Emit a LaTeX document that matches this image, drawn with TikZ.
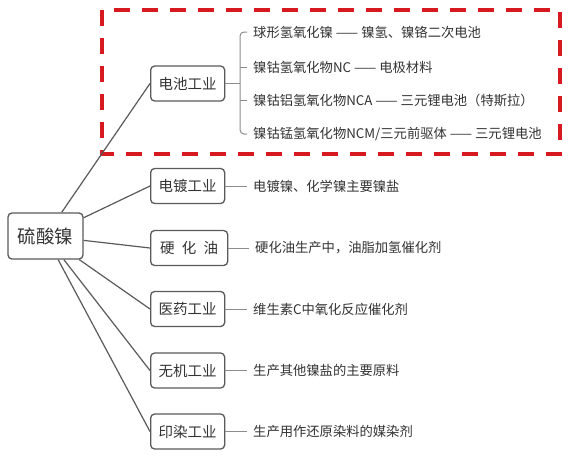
\documentclass[tikz,border=0pt]{standalone}
\usepackage{fontspec}
\setmainfont{Noto Sans CJK SC}
\begin{document}
\begin{tikzpicture}[x=1pt,y=-1pt,
  boxc/.style={draw=boxgray,line width=1.3pt,rounded corners=4pt,fill=white,
    text=txtgray,minimum height=35pt,minimum width=74pt,inner sep=2pt,
    font=\fontsize{14.5}{16}\selectfont},
  rootc/.style={boxc,minimum width=75pt,minimum height=46pt,font=\fontsize{18.5}{20}\selectfont},
  leaf/.style={anchor=west,inner xsep=0pt,inner ysep=2pt,text=txtgray,
    font=\fontsize{13.3}{15}\selectfont},
  conn/.style={draw=linegray,line width=1.2pt},
  brk/.style={draw=brkgray,line width=1pt},
  reddash/.style={draw=redc,line width=4pt,dash pattern=on 16pt off 12pt}
]
\definecolor{boxgray}{HTML}{5A5A5A}
\definecolor{txtgray}{HTML}{333333}
\definecolor{linegray}{HTML}{5A5A5A}
\definecolor{brkgray}{HTML}{8C8C8C}
\definecolor{redc}{HTML}{D71920}
\useasboundingbox (0,0) rectangle (570,458);
\fill[white] (0,0) rectangle (570,458);

\draw[reddash] (102,10) rectangle (560,154);

% root and boxes
\node[rootc] (root) at (45.5,236) {硫酸镍};
\node[boxc,anchor=west] (b1) at (150,83.5) {电池工业};
\node[boxc,anchor=west] (b2) at (150,186) {电镀工业};
\node[boxc,anchor=west,minimum width=77pt] (b3) at (150,248) {硬\hspace{0.5em}化\hspace{0.5em}油};
\node[boxc,anchor=west] (b4) at (150,309) {医药工业};
\node[boxc,anchor=west] (b5) at (150,370.5) {无机工业};
\node[boxc,anchor=west] (b6) at (150,431.5) {印染工业};

\foreach \b in {b1,b2,b3,b4,b5,b6}{\draw[conn] (root) -- (\b.west);}

% battery sub items
\node[leaf] (s1) at (253,32) {球形氢氧化镍 —— 镍氢、镍铬二次电池};
\node[leaf] (s2) at (253,67) {镍钴氢氧化物NC —— 电极材料};
\node[leaf] (s3) at (253,100.5) {镍钴铝氢氧化物NCA —— 三元锂电池（特斯拉）};
\node[leaf] (s4) at (253,134) {镍钴锰氢氧化物NCM/三元前驱体 —— 三元锂电池};

\coordinate (bk) at (240,83.5);
\draw[brk] (b1.east) -- (bk);
\draw[brk,rounded corners=4pt] ([xshift=-6pt]s1.west) -| (bk) |- ([xshift=-6pt]s4.west);
\draw[brk] ([xshift=-6pt]s2.west) -- (s2.west -| bk);
\draw[brk] ([xshift=-6pt]s3.west) -- (s3.west -| bk);

% other leaves
\node[leaf] (l2) at (253,186) {电镀镍、化学镍主要镍盐};
\node[leaf] (l3) at (255,248) {硬化油生产中，油脂加氢催化剂};
\node[leaf] (l4) at (253,309) {维生素C中氧化反应催化剂};
\node[leaf] (l5) at (253,370.5) {生产其他镍盐的主要原料};
\node[leaf] (l6) at (253,431.5) {生产用作还原染料的媒染剂};

\draw[brk] (b2.east) -- ([xshift=-6pt]l2.west);
\draw[brk] (b3.east) -- ([xshift=-6pt]l3.west);
\draw[brk] (b4.east) -- ([xshift=-6pt]l4.west);
\draw[brk] (b5.east) -- ([xshift=-6pt]l5.west);
\draw[brk] (b6.east) -- ([xshift=-6pt]l6.west);
\end{tikzpicture}
\end{document}
